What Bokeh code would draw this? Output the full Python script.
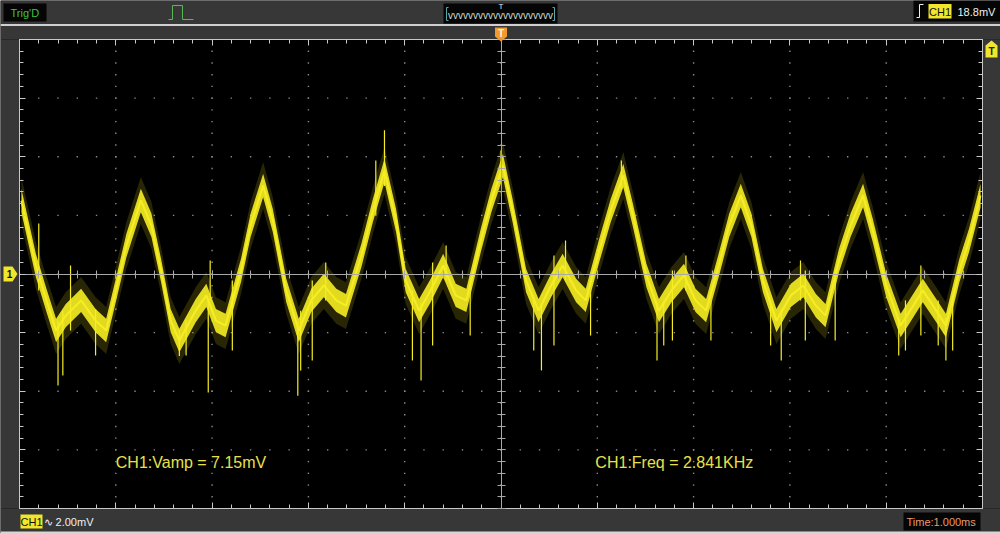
import numpy as np
from bokeh.plotting import figure
from bokeh.models import Range1d, Span, Label, LinearAxis, SingleIntervalTicker
from bokeh.embed import file_html
from bokeh.resources import INLINE

# ---------------- data (time in ms, CH1 in mV) ----------------
time_ms = [-4.98, -4.83, -4.72, -4.62, -4.52, -4.36, -4.21, -4.10, -4.00, -3.89,
           -3.74, -3.63, -3.53, -3.43, -3.34, -3.17, -3.06, -2.96, -2.86, -2.70,
           -2.60, -2.47, -2.37, -2.23, -2.10, -1.97, -1.84, -1.71, -1.61, -1.45,
           -1.33, -1.21, -1.09, -0.99, -0.85, -0.73, -0.60, -0.47, -0.36, -0.21,
           -0.10, 0.02, 0.12, 0.26, 0.39, 0.52, 0.64, 0.78, 0.88, 1.02,
           1.14, 1.27, 1.37, 1.51, 1.64, 1.77, 1.90, 2.02, 2.13, 2.26,
           2.37, 2.49, 2.60, 2.72, 2.86, 3.01, 3.14, 3.27, 3.37, 3.51,
           3.63, 3.76, 3.86, 4.00, 4.15, 4.28, 4.38, 4.52, 4.62, 4.76,
           4.86, 4.98]
ch1_mv = [2.50, 0.29, -0.90, -1.93, -1.42, -0.90, -1.59, -1.93, -0.56, 0.97,
          2.51, 1.66, 0.12, -1.59, -2.27, -1.25, -0.73, -1.59, -1.76, 0.12,
          1.66, 3.02, 1.83, -0.56, -1.93, -0.90, -0.39, -0.90, -1.08, 0.63,
          2.17, 3.53, 1.83, -0.22, -1.25, -0.56, 0.29, -0.73, -0.90, 1.14,
          2.51, 3.70, 2.17, -0.22, -1.25, -0.39, 0.29, -0.56, -0.90, 0.80,
          2.17, 3.36, 2.00, -0.05, -1.25, -0.56, -0.05, -0.90, -1.25, 0.29,
          1.66, 2.68, 1.66, -0.22, -1.59, -0.73, -0.39, -1.08, -1.42, 0.46,
          1.66, 2.68, 1.49, -0.39, -1.76, -1.08, -0.56, -1.25, -1.76, 0.12,
          1.14, 2.68]
noise_mv = 0.40        # half-width of the dense noise band
noise_outer_mv = 0.80  # half-width of the sparser noise fringe

spike_ms = [-4.80, -4.60, -4.47, -4.21, -3.34, -3.04, -2.79, -2.11, -1.96, -1.21,
            -0.83, -0.71, 0.00, 0.42, 0.55, 1.25, 1.62, 1.78, 2.91, 3.16,
            4.13, 4.36, 4.62, 4.69,
            -4.55, -3.27, -2.08, -0.92, -0.32, 0.34, 0.93, 1.69, 2.18, 2.80,
            3.47, 4.20, 4.54, -3.02, -1.82, -0.57, 0.67, 1.92, 3.11, -1.30]
spike_lo_mv = [-0.56, -3.80, -1.93, -2.78, -2.80, -4.04, -2.61, -4.15, -2.95, 3.00,
               -3.63, -2.44, 3.20, -3.29, -2.44, 2.90, -2.95, -2.27, -2.95, -2.27,
               -2.78, -2.10, -2.95, -2.61,
               -3.46, -2.78, -3.29, -2.95, -2.10, -2.61, -2.10, -2.44, -2.27, -2.44,
               -2.27, -2.61, -2.44, -0.90, -0.90, -0.22, -0.22, -0.56, -0.90, 1.99]
spike_hi_mv = [1.72, -1.60, 0.29, -1.20, -1.90, -0.90, -0.22, -1.60, -0.22, 4.90,
               -1.00, 0.39, 4.21, -1.00, 0.63, 3.87, -1.00, 0.12, -1.20, 0.12,
               -1.50, 0.29, -1.50, -0.90,
               -1.25, -1.59, -1.25, -0.56, -0.39, -0.90, -0.56, -0.90, -0.90, -0.90,
               0.12, -0.90, -0.90, 0.46, 0.39, 0.97, 1.14, 0.63, 0.46, 3.87]

vamp_text = "CH1:Vamp = 7.15mV"
freq_text = "CH1:Freq = 2.841KHz"
volts_div = "\u223f 2.00mV"
time_div = "Time:1.000ms"
trig_level = "18.8mV"
trig_state = "Trig'D"

# screen geometry
W, H = 1000, 533
X0, Y0 = 500.5, 273.5        # screen position of 0 ms / 0 mV
PX_MS, PX_MV = 96.3, 29.3125  # 1 ms/div, 2 mV/div
T_MIN, T_MAX, V_MIN, V_MAX = -5, 5, -8, 8


def tx(px):
    return (px - X0) / PX_MS


def vy(py):
    return (Y0 - py) / PX_MV


GRAY = "#373737"
YEL = "#f6ee22"
FONT = "Liberation Sans"

XMIN, XMAX = tx(0), tx(W)
YMIN, YMAX = vy(H), vy(0)

p = figure(width=W, height=H, x_range=Range1d(XMIN, XMAX), y_range=Range1d(YMIN, YMAX),
           output_backend="svg", toolbar_location=None, min_border=0,
           x_axis_location=None, y_axis_location=None,
           background_fill_color="black", border_fill_color=GRAY, outline_line_color=None)
p.grid.visible = False

# dotted graticule: a dot at every sub-division along each division line
t_div = np.arange(T_MIN + 1, T_MAX, 1.0)
v_div = np.arange(V_MIN + 2, V_MAX, 2.0)
t_sub = np.arange(T_MIN, T_MAX + 1e-9, 0.2)
v_sub = np.arange(V_MIN, V_MAX + 1e-9, 0.4)
gx = np.concatenate([np.repeat(t_div, len(v_sub)), np.tile(t_sub, len(v_div))])
gy = np.concatenate([np.tile(v_sub, len(t_div)), np.repeat(v_div, len(t_sub))])
p.scatter(gx, gy, marker="square", size=1.4, fill_color="#8a8a8a", line_color=None)

# gray surround
p.quad(left=[XMIN, XMIN, XMIN, T_MAX], right=[XMAX, XMAX, T_MIN, XMAX],
       bottom=[V_MAX, YMIN, V_MIN, V_MIN], top=[YMAX, V_MIN, V_MAX, V_MAX],
       fill_color=GRAY, line_color=None)


def add_axis(side, loc, interval, bounds, color, tin, tmin):
    ax = LinearAxis(fixed_location=loc,
                    ticker=SingleIntervalTicker(interval=interval, num_minor_ticks=5),
                    bounds=bounds, axis_line_color=color,
                    major_tick_line_color=color, minor_tick_line_color=color,
                    major_tick_in=tin, major_tick_out=0, minor_tick_in=tmin, minor_tick_out=0,
                    major_label_text_font_size="0px", major_label_text_color=None,
                    major_label_standoff=0)
    p.add_layout(ax, side)


# screen border with inward ticks
add_axis("below", V_MIN, 1, (T_MIN, T_MAX), "#c8c8c8", 6, 4)
add_axis("above", V_MAX, 1, (T_MIN, T_MAX), "#c8c8c8", 6, 4)
add_axis("left", T_MIN, 2, (V_MIN, V_MAX), "#c8c8c8", 6, 4)
add_axis("right", T_MAX, 2, (V_MIN, V_MAX), "#c8c8c8", 6, 4)
# centre cross with ticks on both sides
add_axis("below", 0, 1, (T_MIN, T_MAX), "#a8a8a8", 4, 4)
add_axis("above", 0, 1, (T_MIN, T_MAX), "#a8a8a8", 4, 4)
add_axis("left", 0, 2, (V_MIN, V_MAX), "#a8a8a8", 4, 4)
add_axis("right", 0, 2, (V_MIN, V_MAX), "#a8a8a8", 4, 4)

# ---------------- trace ----------------
v = np.array(ch1_mv)
p.varea(x=time_ms, y1=v - noise_outer_mv, y2=v + noise_outer_mv, fill_color=YEL, fill_alpha=0.16)
p.varea(x=time_ms, y1=v - noise_mv, y2=v + noise_mv, fill_color=YEL, fill_alpha=0.9)
p.segment(x0=spike_ms, y0=spike_lo_mv, x1=spike_ms, y1=spike_hi_mv, line_color=YEL, line_width=1.2)
p.line(time_ms, ch1_mv, line_color=YEL, line_width=2)

# measurements
for tx0, txt in ((-4.0, vamp_text), (0.98, freq_text)):
    p.add_layout(Label(x=tx0, y=vy(462), text=txt, text_color="#e8e04a", text_font=FONT,
                       text_font_size="16px", text_baseline="middle", text_align="left"))

# ---------------- top status bar ----------------
p.add_layout(Span(location=vy(24.5), dimension="width", line_color="#d0d0d0", line_width=2))
p.add_layout(Span(location=vy(532), dimension="width", line_color="#d8d8d8", line_width=2))

# black boxes: Trig'D, timebase window, trigger info, time/div
p.quad(left=[tx(3), tx(443), tx(913), tx(903)], right=[tx(46), tx(557), tx(W), tx(980)],
       top=[vy(3), vy(3), vy(0), vy(512)], bottom=[vy(21), vy(23), vy(21), vy(530)],
       fill_color="#050505", line_color=None)
# yellow CH1 tags
p.quad(left=[tx(928), tx(20)], right=[tx(951), tx(42)], top=[vy(3.5), vy(514)],
       bottom=[vy(18), vy(528)], fill_color="#f2e62c", line_color=None)

p.add_layout(Label(x=tx(10), y=vy(12), text=trig_state, text_color="#3fc23f", text_font=FONT,
                   text_font_size="11px", text_baseline="middle"))
# pulse icon
p.line([tx(168), tx(172), tx(172), tx(182), tx(182), tx(193)],
       [vy(19), vy(19), vy(5), vy(5), vy(19), vy(19)], line_color="#56b856", line_width=1)
# window brackets
p.segment(x0=[tx(446), tx(554), tx(446), tx(446), tx(552), tx(552)],
          x1=[tx(446), tx(554), tx(448), tx(448), tx(554), tx(554)],
          y0=[vy(7), vy(7), vy(7), vy(20), vy(7), vy(20)],
          y1=[vy(20), vy(20), vy(7), vy(20), vy(7), vy(20)],
          line_color="#5aa6a6", line_width=1)
p.add_layout(Label(x=tx(500), y=vy(14.5), text="v" * 21, text_color="#c9dcc9", text_font=FONT,
                   text_font_size="10px", text_baseline="middle", text_align="center"))
p.add_layout(Label(x=tx(500.5), y=vy(6), text="T", text_color="#e8e8e8", text_font=FONT,
                   text_font_size="8px", text_baseline="middle", text_align="center"))
# trigger edge icon
p.line([tx(916), tx(919), tx(919), tx(923)], [vy(17), vy(17), vy(4), vy(4)],
       line_color="#f0f0f0", line_width=1)
p.add_layout(Label(x=tx(939.5), y=vy(11), text="CH1", text_color="#111111", text_font=FONT,
                   text_font_size="11px", text_baseline="middle", text_align="center"))
p.add_layout(Label(x=tx(957), y=vy(11), text=trig_level, text_color="#f0f0f0", text_font=FONT,
                   text_font_size="11px", text_baseline="middle"))

# trigger position marker (orange), trigger level marker (yellow), channel marker
p.patch([tx(494.5), tx(506.5), tx(506.5), tx(500.5), tx(494.5)],
        [vy(27), vy(27), vy(36), vy(41), vy(36)], fill_color="#f29a2e", line_color=None)
p.add_layout(Label(x=tx(500.5), y=vy(33), text="T", text_color="#fff4e0", text_font=FONT,
                   text_font_size="10px", text_font_style="bold", text_baseline="middle",
                   text_align="center"))
p.patch([tx(985), tx(991), tx(997), tx(997), tx(985)],
        [vy(45), vy(40), vy(45), vy(57), vy(57)], fill_color="#f2e62c", line_color=None)
p.add_layout(Label(x=tx(991), y=vy(50.5), text="T", text_color="#222222", text_font=FONT,
                   text_font_size="10px", text_font_style="bold", text_baseline="middle",
                   text_align="center"))
p.patch([tx(3), tx(12), tx(17), tx(12), tx(3)],
        [vy(266), vy(266), vy(273.5), vy(281), vy(281)], fill_color="#f2e62c", line_color=None)
p.add_layout(Label(x=tx(9), y=vy(273.5), text="1", text_color="#111111", text_font=FONT,
                   text_font_size="10px", text_font_style="bold", text_baseline="middle",
                   text_align="center"))

# ---------------- bottom bar ----------------
p.add_layout(Label(x=tx(31), y=vy(521), text="CH1", text_color="#111111", text_font=FONT,
                   text_font_size="11px", text_baseline="middle", text_align="center"))
p.add_layout(Label(x=tx(43), y=vy(521), text=volts_div, text_color="#f0f0f0", text_font=FONT,
                   text_font_size="11px", text_baseline="middle"))
p.add_layout(Label(x=tx(906), y=vy(521), text=time_div, text_color="#e89a6c", text_font=FONT,
                   text_font_size="11px", text_baseline="middle"))

open("out.html", "w").write(file_html(p, INLINE))
